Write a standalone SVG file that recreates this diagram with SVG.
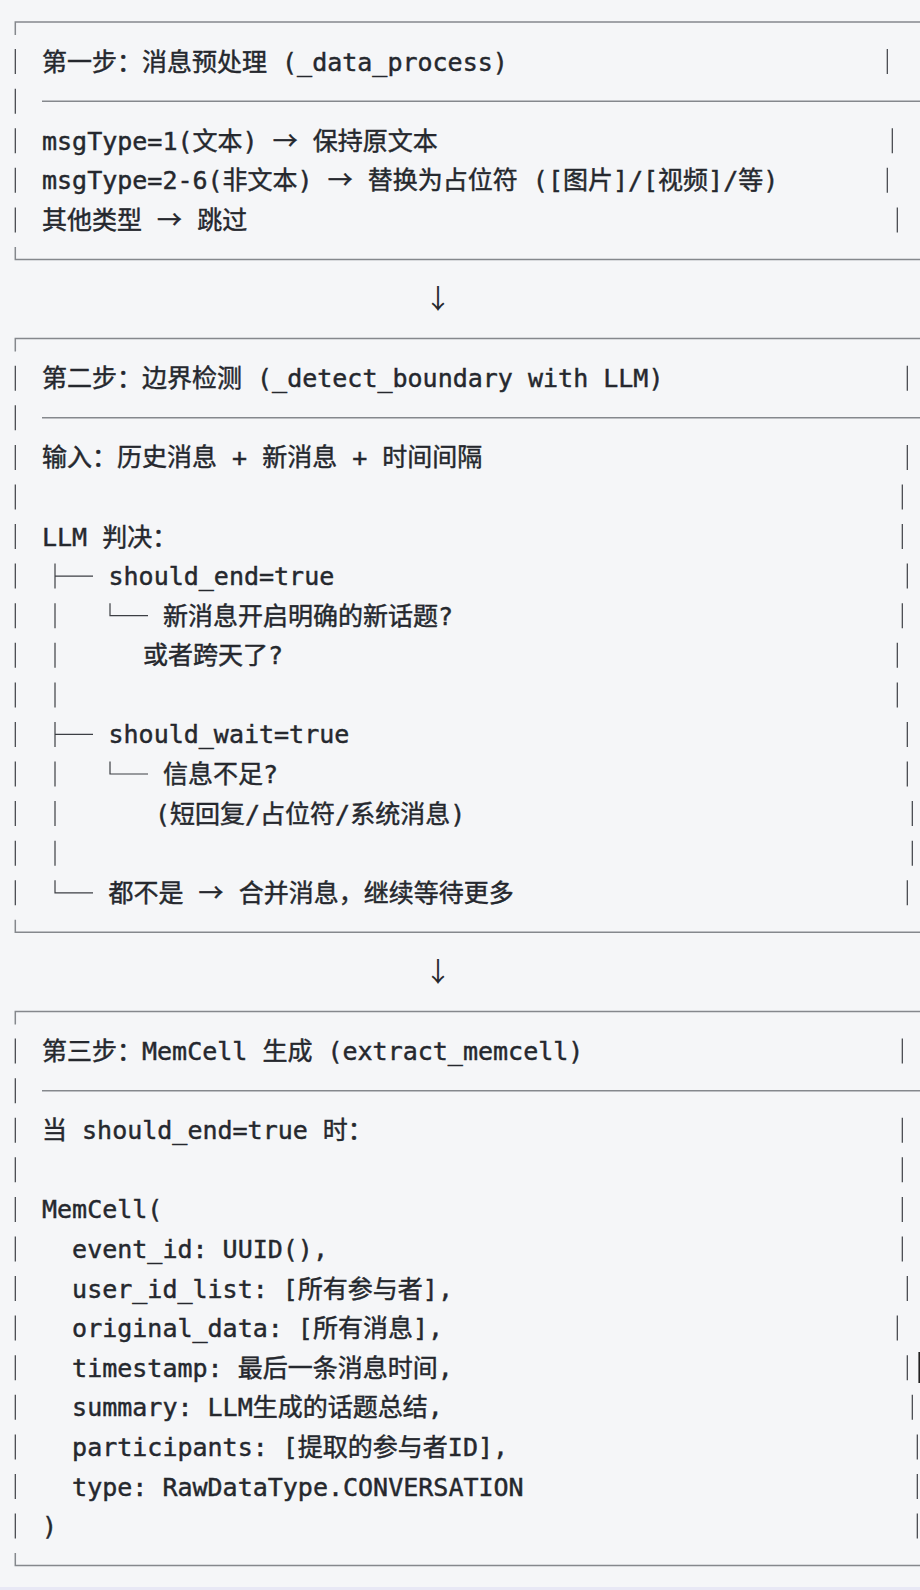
<svg xmlns="http://www.w3.org/2000/svg" width="920" height="1590" viewBox="0 0 920 1590">
<style>
.t{font-family:'DejaVu Sans Mono','Noto Sans CJK SC',monospace;font-size:25px;fill:#25282e;stroke:#25282e;stroke-width:0.45px}
.c{font-family:'Noto Sans CJK SC',sans-serif}
.a{font-family:'Noto Sans CJK SC',sans-serif;font-size:27px;fill:#25282e}
.h{stroke:#85888d;stroke-width:1.5;fill:none}
.v{stroke:#3c3f44;stroke-width:1.2;fill:none}
</style>
<rect width="920" height="1590" fill="#f5f6f8"/>
<rect x="0" y="1587" width="920" height="3" fill="#e8e8f5"/>

<g id="step1">
<path class="h" d="M15.3 35V22H920M15.3 247V259.5H920M42 101.2H920"/>
<path class="v" d="M15.3 49.1v25M15.3 88.7v25M15.3 128.2v25M15.3 167.8v25M15.3 207.4v25M887.3 49.1v25M892.3 128.2v25M887.3 167.8v25M897.3 207.4v25"/>
<text class="t" x="42" y="70.6">第一步：消息预处理 (_data_process)</text>
<text class="t" x="42" y="149.7">msgType=1(文本) <tspan class="c">→</tspan> 保持原文本</text>
<text class="t" x="42" y="189.3">msgType=2-6(非文本) <tspan class="c">→</tspan> 替换为占位符 ([图片]/[视频]/等)</text>
<text class="t" x="42" y="228.9">其他类型 <tspan class="c">→</tspan> 跳过</text>
</g>

<g id="connectors">
<text class="a" x="438" y="309" text-anchor="middle">↓</text>
<text class="a" x="438" y="982" text-anchor="middle">↓</text>
</g>

<g id="step2">
<path class="h" d="M15.3 351.6V338.6H920M15.3 919.8V932.3H920M42 417.8H920"/>
<path class="v" d="M15.3 365.7v25M15.3 405.3v25M15.3 444.9v25M15.3 484.5v25M15.3 524v25M15.3 563.6v25M15.3 603.2v25M15.3 642.8v25M15.3 682.4v25M15.3 721.9v25M15.3 761.5v25M15.3 801.1v25M15.3 840.7v25M15.3 880.3v25"/>
<path class="v" d="M907.3 365.7v25M907.3 444.9v25M902.3 484.5v25M902.3 524v25M907.3 563.6v25M902.3 603.2v25M897.3 642.8v25M897.3 682.4v25M907.3 721.9v25M907.3 761.5v25M912.3 801.1v25M912.3 840.7v25M907.3 880.3v25"/>
<path class="v" d="M55 563.6v25M55 576.1H93M55 603.2v25M110 603.2v12.5H148M55 642.8v25M55 682.4v25M55 721.9v25M55 734.4H93M55 761.5v25M110 761.5v12.5H148M55 801.1v25M55 840.7v25M55 880.3v12.5H93"/>
<text class="t" x="42" y="387.2">第二步：边界检测 (_detect_boundary with LLM)</text>
<text class="t" x="42" y="466.4">输入：历史消息 + 新消息 + 时间间隔</text>
<text class="t" x="42" y="545.5">LLM 判决：</text>
<text class="t" x="108.5" y="585.1">should_end=true</text>
<text class="t" x="163" y="624.7">新消息开启明确的新话题?</text>
<text class="t" x="143" y="664.3">或者跨天了?</text>
<text class="t" x="108.5" y="743.4">should_wait=true</text>
<text class="t" x="163" y="783">信息不足?</text>
<text class="t" x="155" y="822.6">(短回复/占位符/系统消息)</text>
<text class="t" x="108.5" y="901.8">都不是 <tspan class="c">→</tspan> 合并消息，继续等待更多</text>
</g>

<g id="step3">
<path class="h" d="M15.3 1024.5V1011.5H920M15.3 1553.1V1565.6H920M42 1090.7H920"/>
<path class="v" d="M15.3 1038.6v25M15.3 1078.2v25M15.3 1117.7v25M15.3 1157.3v25M15.3 1196.9v25M15.3 1236.5v25M15.3 1276.1v25M15.3 1315.6v25M15.3 1355.2v25M15.3 1394.8v25M15.3 1434.4v25M15.3 1474v25M15.3 1513.5v25"/>
<path class="v" d="M902.3 1038.6v25M902.3 1117.7v25M902.3 1157.3v25M902.3 1196.9v25M902.3 1236.5v25M907.3 1276.1v25M897.3 1315.6v25M907.3 1355.2v25M912.3 1394.8v25M917.3 1434.4v25M917.3 1474v25M917.3 1513.5v25"/>
<path d="M919.3 1352V1383" stroke="#222" stroke-width="1.8"/>
<text class="t" x="42" y="1060.1">第三步：MemCell 生成 (extract_memcell)</text>
<text class="t" x="42" y="1139.2">当 should_end=true 时：</text>
<text class="t" x="42" y="1218.4">MemCell(</text>
<text class="t" x="72.1" y="1258">event_id: UUID(),</text>
<text class="t" x="72.1" y="1297.6">user_id_list: [所有参与者],</text>
<text class="t" x="72.1" y="1337.1">original_data: [所有消息],</text>
<text class="t" x="72.1" y="1376.7">timestamp: 最后一条消息时间,</text>
<text class="t" x="72.1" y="1416.3">summary: LLM生成的话题总结,</text>
<text class="t" x="72.1" y="1455.9">participants: [提取的参与者ID],</text>
<text class="t" x="72.1" y="1495.5">type: RawDataType.CONVERSATION</text>
<text class="t" x="42" y="1535">)</text>
</g>
</svg>
